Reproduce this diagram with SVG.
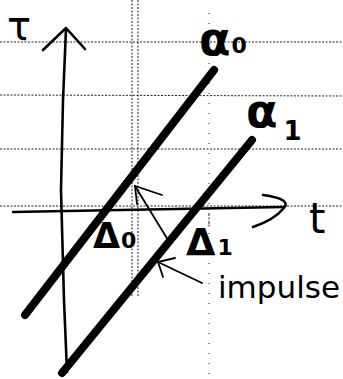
<svg xmlns="http://www.w3.org/2000/svg" width="343" height="379" viewBox="0 0 343 379">
<style>
.grid{stroke:#222;stroke-width:1;stroke-dasharray:2 1.5;fill:none}
.sparse{stroke:#222;stroke-width:1;stroke-dasharray:1 9;fill:none}
.axis{stroke:#000;stroke-width:2.6;fill:none;stroke-linecap:round;stroke-linejoin:round}
.thick{stroke:#000;stroke-width:8;fill:none;stroke-linecap:round}
.thin{stroke:#000;stroke-width:1.8;fill:none;stroke-linecap:round}
.lbl{font-family:"DejaVu Sans",sans-serif;font-weight:bold;fill:#000}
.hand{font-family:"DejaVu Sans",sans-serif;fill:#000}
</style>
<rect width="343" height="379" fill="#fff"/>
<g id="grid">
<line class="grid" x1="0" y1="42" x2="343" y2="42"/>
<line class="grid" x1="0" y1="95" x2="343" y2="96"/>
<line class="grid" x1="0" y1="149" x2="343" y2="149"/>
<line class="grid" x1="0" y1="206" x2="343" y2="206"/>
<line class="grid" x1="132" y1="0" x2="132" y2="297"/>
<line class="grid" x1="138" y1="0" x2="138" y2="297"/>
<line class="sparse" x1="209" y1="13" x2="209" y2="379"/>
<line class="grid" x1="209" y1="214" x2="209" y2="228"/>
</g>
<g id="tau-axis">
<path class="axis" d="M66,29 L63,100 L61,190 L64,300 L67,372"/>
<path class="axis" d="M43,50 L66,28 L85,49"/>
<text class="hand" x="7" y="40" font-size="40">τ</text>
</g>
<g id="t-axis">
<path class="axis" d="M13,212 L284,207"/>
<path class="axis" d="M263,195 Q292,199 284,208 Q274,220 253,227"/>
<text class="hand" x="309" y="233" font-size="42">t</text>
</g>
<g id="alpha0">
<line class="thick" x1="214" y1="70" x2="25" y2="315"/>
<text class="lbl" x="199" y="55" font-size="46">α<tspan font-size="22" dx="1" dy="-2">0</tspan></text>
</g>
<g id="alpha1">
<line class="thick" x1="252" y1="140" x2="62" y2="373"/>
<text class="lbl" x="246" y="127" font-size="46">α<tspan font-size="26" dx="6" dy="13">1</tspan></text>
</g>
<g id="delta0">
<text class="lbl" x="93" y="248" font-size="35">Δ<tspan font-size="22" dx="1">0</tspan></text>
</g>
<g id="delta1">
<text class="lbl" x="186" y="255" font-size="38">Δ<tspan font-size="22" dx="2">1</tspan></text>
</g>
<g id="connectors">
<path class="thin" d="M168,240 L135,186"/>
<path class="thin" d="M162,195 L135,186 L137,204"/>
<path class="thin" d="M202,283 L158,262"/>
<path class="thin" d="M175,258 L158,262 L163,277"/>
</g>
<g id="impulse">
<text class="hand" x="218" y="298" font-size="31">impulse</text>
</g>
</svg>
